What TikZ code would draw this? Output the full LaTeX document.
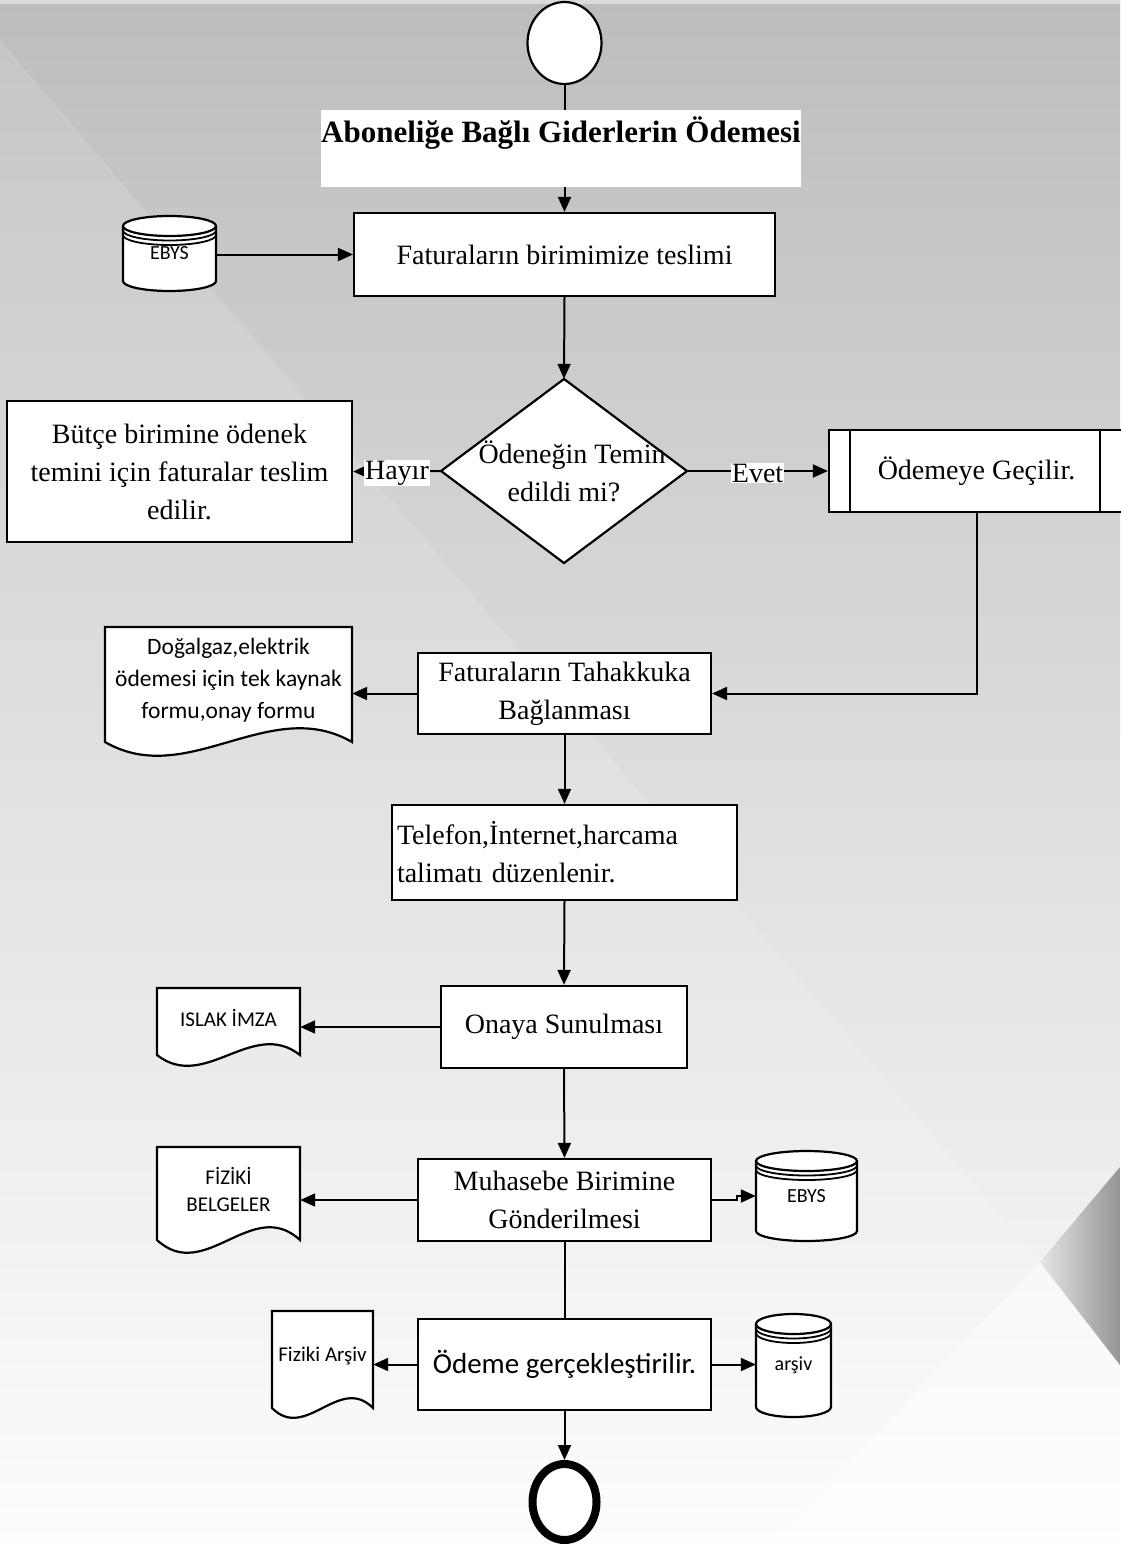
\documentclass[tikz,border=0pt]{standalone}
\usepackage{fontspec}
\setmainfont{Liberation Serif}
\newfontfamily\calfont{Carlito}
\usetikzlibrary{arrows.meta,shapes.geometric,calc}

\definecolor{bgtop}{HTML}{BDBDBD}
\definecolor{bgbot}{HTML}{FDFDFD}

\tikzset{
  shapeline/.style={draw=black, line width=2.2pt, fill=white},
  box/.style={shapeline, rectangle, inner sep=4pt, align=center,
              font=\fontsize{28}{38}\selectfont},
  flow/.style={line width=2pt},
  conn/.style={flow, -{Triangle[length=15pt,width=13pt]}},
  lbl/.style={fill=white, inner sep=1pt, yshift=-2pt, font=\fontsize{28}{32}\selectfont},
  cylnode/.style={rectangle, inner sep=0pt, align=center,
                  font=\calfont\fontsize{20}{24}\selectfont},
  docnode/.style={rectangle, inner sep=0pt, align=center,
                  font=\calfont\fontsize{21}{30}\selectfont},
}

% database cylinder: name, x1, y1, x2, y2, label
\newcommand{\dbcyl}[6]{%
  \pgfmathsetmacro{\cx}{(#2+#4)/2}%
  \pgfmathsetmacro{\cy}{(#3+#5)/2}%
  \pgfmathsetmacro{\rx}{(#4-#2)/2}%
  \pgfmathsetmacro{\yt}{#3+10}%
  \pgfmathsetmacro{\yb}{#5-10}%
  \pgfmathsetmacro{\ya}{\yt+4.5}%
  \pgfmathsetmacro{\yc}{\yt+9}%
  \pgfmathsetmacro{\w}{#4-#2}%
  \pgfmathsetmacro{\h}{#5-#3}%
  \fill[white] (#2,\yt) -- (#2,\yb)
     arc[start angle=180,end angle=360,x radius=\rx pt,y radius=10pt]
     -- (#4,\yt)
     arc[start angle=0,end angle=180,x radius=\rx pt,y radius=10pt] -- cycle;
  \draw[line width=2.2pt] (#2,\yt) -- (#2,\yb)
     arc[start angle=180,end angle=360,x radius=\rx pt,y radius=10pt]
     -- (#4,\yt);
  \draw[line width=2.2pt] (\cx,\yt) ellipse[x radius=\rx pt,y radius=10pt];
  \draw[line width=1.8pt] (#2,\ya)
     arc[start angle=180,end angle=360,x radius=\rx pt,y radius=10pt];
  \draw[line width=1.8pt] (#2,\yc)
     arc[start angle=180,end angle=360,x radius=\rx pt,y radius=10pt];
  \node[cylnode, minimum width=\w pt, minimum height=\h pt] (#1) at (\cx,\cy) {#6};
}

% paper document with wavy foot: [node options], name, x1, y1, x2, yfoot, wave, label
\newcommand{\paperdoc}[8][]{%
  \pgfmathsetmacro{\w}{#5-#3}%
  \pgfmathsetmacro{\ca}{#3+\w/3}%
  \pgfmathsetmacro{\cb}{#3+2*\w/3}%
  \pgfmathsetmacro{\ylo}{#6+3.4*#7}%
  \pgfmathsetmacro{\yhi}{#6-3.4*#7}%
  \pgfmathsetmacro{\cx}{(#3+#5)/2}%
  \pgfmathsetmacro{\cy}{(#4+#6)/2-4}%
  \pgfmathsetmacro{\h}{#6-#4}%
  \filldraw[shapeline] (#3,#6) -- (#3,#4) -- (#5,#4) -- (#5,#6)
     .. controls (\cb,\yhi) and (\ca,\ylo) .. (#3,#6) -- cycle;
  \node[docnode, minimum width=\w pt, minimum height=\h pt, #1] (#2) at (\cx,\cy) {#8};
}

\begin{document}
\begin{tikzpicture}[x=1pt,y=-1pt]
\useasboundingbox (0,0) rectangle (1120,1544);

% ---- background ----
\shade[top color=bgtop, bottom color=bgbot] (0,0) rectangle (1120,1544);
\fill[white, opacity=0.13] (0,40) -- (1040,1262) -- (770,1544) -- (0,1544) -- cycle;
\fill[white, opacity=0.5] (1040,1262) -- (1120,1365) -- (1120,1544) -- (770,1544) -- cycle;
\shade[left color=black!10, right color=black!42] (1040,1262) -- (1120,1167) -- (1120,1365) -- cycle;
\fill[black!14] (0,0) rectangle (1120,4);

% ---- main column ----
\node[shapeline, ellipse, inner sep=0pt, minimum width=74pt, minimum height=82pt]
  (start) at (564.5,43) {};

\node[fill=white, anchor=north, minimum width=480pt, inner xsep=0pt, inner ysep=0pt,
      text height=32pt, text depth=45pt, font=\bfseries\fontsize{31}{36}\selectfont]
  (title) at (561,110) {Aboneliğe Bağlı Giderlerin Ödemesi};

\node[box, minimum width=421pt, minimum height=83pt] (teslim) at (564.5,254.5)
  {Faturaların birimimize teslimi};

\dbcyl{ebysA}{123}{216}{216}{291}{EBYS}

\filldraw[shapeline] (564,379) -- (687,471) -- (564,563) -- (441,471) -- cycle;
\node[rectangle, inner sep=0pt, minimum width=246pt, minimum height=184pt, align=center,
      font=\fontsize{28}{38}\selectfont] (dec) at (564,471)
  {\hspace*{16pt}Ödeneğin Temin\\edildi mi?};

\node[box, minimum width=345pt, minimum height=141pt] (butce) at (179.5,471.5)
  {Bütçe birimine ödenek\\temini için faturalar teslim\\edilir.};

\node[box, minimum width=295pt, minimum height=82pt] (sub) at (976.5,471)
  {Ödemeye Geçilir.};
\draw[line width=1.8pt] ([xshift=22pt]sub.north west) -- ([xshift=22pt]sub.south west);
\draw[line width=1.8pt] ([xshift=-25pt]sub.north east) -- ([xshift=-25pt]sub.south east);

\node[box, minimum width=293pt, minimum height=81pt] (tah) at (564.5,693.5)
  {Faturaların Tahakkuka\\Bağlanması};

\paperdoc[font=\calfont\fontsize{23.5}{32}\selectfont]{formdoc}{105}{627}{352}{742}{14}
  {Doğalgaz,elektrik\\ödemesi için tek kaynak\\formu,onay formu}

\node[box, minimum height=95pt, text width=335pt, inner xsep=5pt, align=left] (tel) at (564.5,852.5)
  {Telefon,İnternet,harcama\\talimatı düzenlenir.};

\node[box, minimum width=246pt, minimum height=82pt] (onay) at (564,1027)
  {Onaya Sunulması};

\paperdoc{islak}{157}{988}{300}{1055}{11}{ISLAK İMZA}

\node[box, minimum width=293pt, minimum height=82pt] (muh) at (564.5,1200)
  {Muhasebe Birimine\\Gönderilmesi};

\paperdoc[font=\calfont\fontsize{21}{27}\selectfont]{fiziki}{157}{1147}{300}{1240}{13}{FİZİKİ\\BELGELER}

\dbcyl{ebysB}{756}{1151}{857}{1241}{EBYS}

\node[box, minimum width=293pt, minimum height=91pt, font=\calfont\fontsize{29}{34}\selectfont]
  (ode) at (564.5,1364.5) {Ödeme gerçekleştirilir.};

\paperdoc{arsivdoc}{272}{1311}{373}{1408}{10}{Fiziki Arşiv}

\dbcyl{arsivdb}{756}{1314}{831}{1417}{arşiv}

\node[draw=black, line width=8pt, fill=white, ellipse, inner sep=0pt,
      minimum width=64pt, minimum height=76pt] (stop) at (564.5,1502) {};

% ---- connectors ----
\draw[flow] (start.south) -- (start.south |- title.north);
\draw[conn] (title.south -| teslim.north) -- (teslim.north);
\draw[conn] (teslim.west -| ebysA.east) -- (teslim.west);
\draw[conn] (teslim.south) -- (dec.north);
\draw[conn] (dec.west) -- node[lbl] {Hayır} (butce.east);
\draw[conn] (dec.east) -- node[lbl] {Evet} (sub.west);
\draw[conn] (sub.south) |- (tah.east);
\draw[conn] (tah.west) -- (tah.west -| formdoc.east);
\draw[conn] (tah.south) -- (tel.north);
\draw[conn] (tel.south) -- (onay.north);
\draw[conn] (onay.west) -- (onay.west -| islak.east);
\draw[conn] (onay.south) -- (muh.north);
\draw[conn] (muh.west) -- (muh.west -| fiziki.east);
\draw[conn] (muh.east) -- ++(25,0) |- (ebysB.west);
\draw[flow] (muh.south) -- (ode.north);
\draw[conn] (ode.west) -- (ode.west -| arsivdoc.east);
\draw[conn] (ode.east) -- (ode.east -| arsivdb.west);
\draw[conn] (ode.south) -- (stop.north);
\end{tikzpicture}
\end{document}
